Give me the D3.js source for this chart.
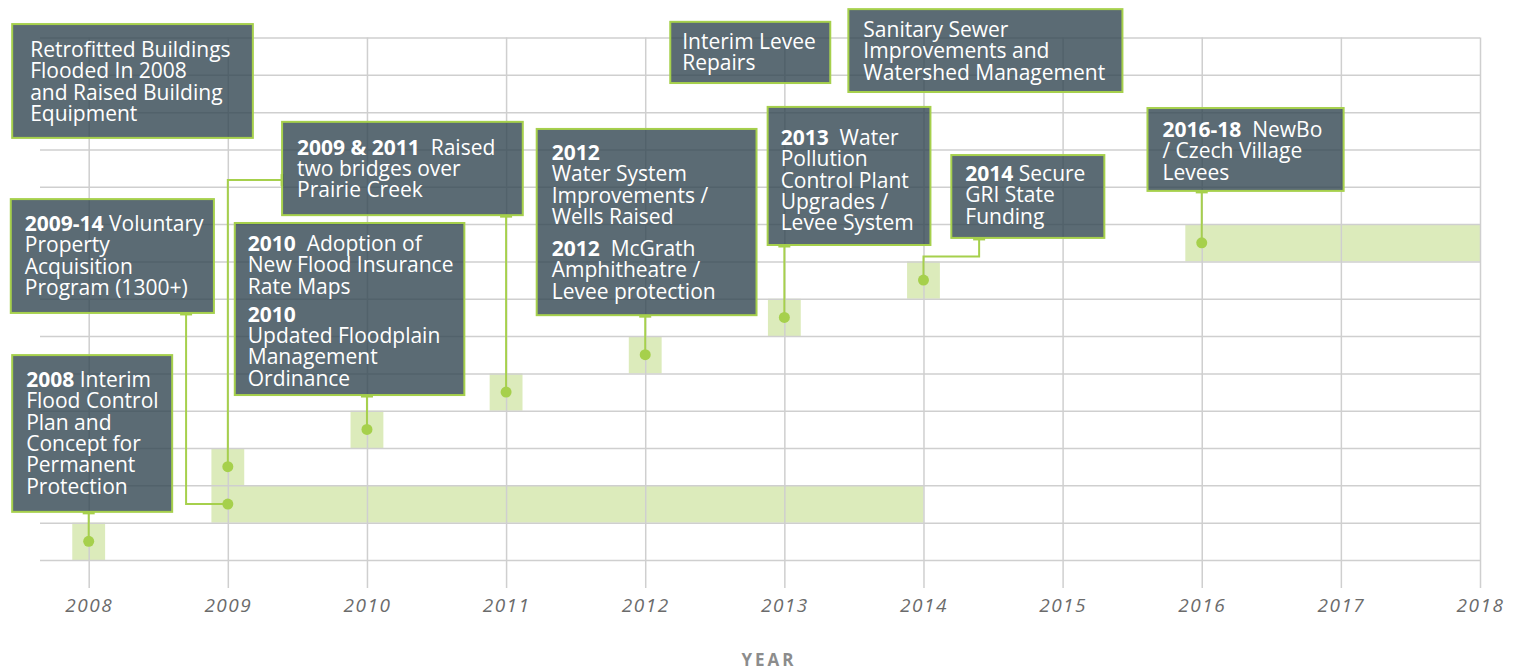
<!DOCTYPE html>
<html>
<head>
<meta charset="utf-8">
<script src="https://cdn.jsdelivr.net/npm/d3@7"></script>
<style>
  body { margin: 0; background: #fff; font-family: "Open Sans", sans-serif; }
  .grid line { stroke: #cfcfcf; stroke-width: 1.5; }
  .grid path { display: none; }
  .x-axis text { font-family: "Open Sans"; font-size: 19px; font-style: italic; letter-spacing: 1.5px; fill: #6b6b6b; }
  .box-text { font-family: "Open Sans"; font-size: 21px; fill: #fff; white-space: pre; }
</style>
</head>
<body>
<script>
// Jahre auf der x-Achse
const tickYears = [2008, 2009, 2010, 2011, 2012, 2013, 2014, 2015, 2016, 2017, 2018];
const rowTicks = [0, 1, 2, 3, 4, 5, 6, 7, 8, 9, 10, 11, 12, 13, 14];

// Ereignisse: Start, Ende, Zeile
const eventStart = [2008, 2009, 2009, 2010, 2011, 2012, 2013, 2014, 2016];
const eventEnd   = [2008, 2014, 2009, 2010, 2011, 2012, 2013, 2014, 2018];
const eventRow   = [0, 1, 2, 3, 4, 5, 6, 7, 8];

// Texte der Kästen (null = Absatz)
const boxTexts = [
    ["Retrofitted Buildings", "Flooded In 2008", "and Raised Building", "Equipment"],
    [{b: "2009 & 2011", t: "  Raised"}, "two bridges over", "Prairie Creek"],
    [{b: "2009-14", t: " Voluntary"}, "Property", "Acquisition", "Program (1300+)"],
    [{b: "2010", t: "  Adoption of"}, "New Flood Insurance", "Rate Maps", null, {b: "2010"}, "Updated Floodplain", "Management", "Ordinance"],
    [{b: "2008", t: " Interim"}, "Flood Control", "Plan and", "Concept for", "Permanent", "Protection"],
    ["Interim Levee", "Repairs"],
    ["Sanitary Sewer", "Improvements and", "Watershed Management"],
    [{b: "2012"}, "Water System", "Improvements /", "Wells Raised", null, {b: "2012", t: "  McGrath"}, "Amphitheatre /", "Levee protection"],
    [{b: "2013", t: "  Water"}, "Pollution", "Control Plant", "Upgrades /", "Levee System"],
    [{b: "2014", t: " Secure"}, "GRI State", "Funding"],
    [{b: "2016-18", t: "  NewBo"}, "/ Czech Village", "Levees"]
];

// Lage der Kästen in Datenkoordinaten (Jahr / Zeile) + Textabstand
const boxPlace = [
    {x0: 2007.45, x1: 2009.18, top: 14.36, bottom: 11.31, tx: 18, ty: 33},
    {x0: 2009.39, x1: 2011.12, top: 11.74, bottom: 9.24, tx: 15, ty: 33},
    {x0: 2007.44, x1: 2008.90, top: 9.67, bottom: 6.62, tx: 14, ty: 32},
    {x0: 2009.05, x1: 2010.70, top: 9.03, bottom: 4.42, tx: 13, ty: 28, gap: 7},
    {x0: 2007.45, x1: 2008.60, top: 5.49, bottom: 1.29, tx: 14, ty: 32},
    {x0: 2012.18, x1: 2013.33, top: 14.42, bottom: 12.78, tx: 12, ty: 27},
    {x0: 2013.46, x1: 2015.43, top: 14.76, bottom: 12.54, tx: 15, ty: 28},
    {x0: 2011.22, x1: 2012.80, top: 11.55, bottom: 6.56, tx: 15, ty: 31, gap: 11},
    {x0: 2012.88, x1: 2014.05, top: 12.14, bottom: 8.44, tx: 13, ty: 38},
    {x0: 2014.20, x1: 2015.30, top: 10.85, bottom: 8.63, tx: 14, ty: 26},
    {x0: 2015.61, x1: 2017.02, top: 12.11, bottom: 9.89, tx: 15, ty: 29}
];

// Verbindungslinien Ereignis -> Kasten
const links = [
    {event: 0, box: 4},
    {event: 1, box: 2, elbowX: 2008.70},
    {event: 2, box: 1, side: "left", elbowRow: 10.18},
    {event: 3, box: 3},
    {event: 4, box: 1},
    {event: 5, box: 7},
    {event: 6, box: 8},
    {event: 7, box: 9, elbowRow: 8.13, elbowX: 2014.40},
    {event: 8, box: 10}
];

const width = 1517, height = 670;
const green = "#a6d04c";
const pad = 0.118; // halbe Balkenbreite für Einzeljahre
const lineH = 21.3;

const svg = d3.select("body").append("svg")
    .attr("width", width)
    .attr("height", height);

// Skalen
const x = d3.scaleLinear().domain([2007.65, 2018]).range([40, 1480]);
const y = d3.scaleLinear().domain([0, 14]).range([560, 37.5]);

// Balken
const bars = eventStart.map((s, i) => ({start: s, end: eventEnd[i], row: eventRow[i]}));

svg.append("g").selectAll("rect")
    .data(bars)
    .join("rect")
    .attr("x", d => x(d.start - pad))
    .attr("width", d => x(d.start === d.end ? d.end + pad : d.end) - x(d.start - pad))
    .attr("y", d => y(d.row + 1))
    .attr("height", d => y(d.row) - y(d.row + 1))
    .attr("fill", "#dcebbb");

// Gitter horizontal
svg.append("g")
    .attr("class", "grid")
    .attr("transform", `translate(${x(2007.65)},0)`)
    .call(d3.axisLeft(y).tickValues(rowTicks).tickSize(-(x(2018) - x(2007.65))).tickFormat(""));

// X-Achse mit vertikalem Gitter
svg.append("g")
    .attr("class", "grid x-axis")
    .attr("transform", "translate(0,588)")
    .call(d3.axisBottom(x).tickValues(tickYears).tickSize(-(588 - y(14))).tickPadding(11).tickFormat(d3.format("d")));

// Achsenbeschriftung
svg.append("text")
    .attr("x", 769)
    .attr("y", 666)
    .attr("text-anchor", "middle")
    .attr("font-family", "Open Sans")
    .attr("font-weight", 700)
    .attr("font-size", 17)
    .attr("letter-spacing", 3)
    .attr("fill", "#8c8c8c")
    .text("YEAR");

// Verbindungslinien
const line = d3.line().x(p => x(p[0])).y(p => y(p[1]));
links.forEach(l => {
    const ex = eventStart[l.event], ey = eventRow[l.event] + 0.5;
    const b = boxPlace[l.box];
    let pts;
    if (l.side === "left") {
        pts = [[ex, ey], [ex, l.elbowRow], [b.x0, l.elbowRow]];
    } else if (l.elbowX && l.elbowRow) {
        pts = [[ex, ey], [ex, l.elbowRow], [l.elbowX, l.elbowRow], [l.elbowX, b.bottom]];
    } else if (l.elbowX) {
        pts = [[ex, ey], [l.elbowX, ey], [l.elbowX, b.bottom]];
    } else {
        pts = [[ex, ey], [ex, b.bottom]];
    }
    svg.append("path")
        .attr("d", line(pts))
        .attr("fill", "none")
        .attr("stroke", green)
        .attr("stroke-width", 2);

    // kleine Kappe am Kasten
    const last = pts[pts.length - 1];
    const cx = x(last[0]), cy = y(last[1]);
    if (l.side === "left") {
        svg.append("line").attr("x1", cx).attr("x2", cx).attr("y1", cy - 6).attr("y2", cy + 6)
            .attr("stroke", green).attr("stroke-width", 3);
    } else {
        svg.append("line").attr("x1", cx - 6).attr("x2", cx + 6).attr("y1", cy + 1).attr("y2", cy + 1)
            .attr("stroke", green).attr("stroke-width", 3);
    }
});

// Punkte
svg.append("g").selectAll("circle")
    .data(bars)
    .join("circle")
    .attr("cx", d => x(d.start))
    .attr("cy", d => y(d.row + 0.5))
    .attr("r", 5.5)
    .attr("fill", green);

// Kästen
const boxes = svg.append("g").selectAll("g")
    .data(boxPlace)
    .join("g");

boxes.append("rect")
    .attr("x", d => x(d.x0))
    .attr("y", d => y(d.top))
    .attr("width", d => x(d.x1) - x(d.x0))
    .attr("height", d => y(d.bottom) - y(d.top))
    .attr("fill", "#324651")
    .attr("fill-opacity", 0.8)
    .attr("stroke", green)
    .attr("stroke-width", 2);

boxes.each(function(d, i) {
    const g = d3.select(this);
    let yy = y(d.top) + d.ty;
    boxTexts[i].forEach(ln => {
        if (ln === null) { yy += d.gap || 8; return; }
        const t = g.append("text")
            .attr("class", "box-text")
            .attr("x", x(d.x0) + d.tx)
            .attr("y", yy);
        if (typeof ln === "string") {
            t.text(ln);
        } else {
            t.append("tspan").attr("font-weight", 700).text(ln.b);
            if (ln.t) t.append("tspan").text(ln.t);
        }
        yy += lineH;
    });
});
</script>
</body>
</html>
